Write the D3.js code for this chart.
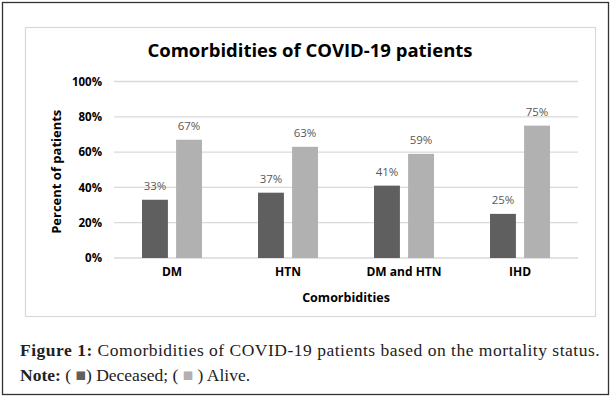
<!DOCTYPE html>
<html>
<head>
  <meta charset="utf-8">
  <title>Comorbidities of COVID-19 patients</title>
  <script src="https://cdn.jsdelivr.net/npm/d3@7"></script>
  <style>
    body { margin: 0; background: #fff; }
    .tick text { font-family: "Open Sans", sans-serif; font-weight: bold; fill: #000; }
  </style>
</head>
<body>
<div id="chart"></div>
<script>
  const categories = ["DM", "HTN", "DM and HTN", "IHD"];
  const series = ["Deceased", "Alive"];
  const deceased = [33, 37, 41, 25];
  const alive = [67, 63, 59, 75];
  const yTicks = [0, 20, 40, 60, 80, 100];
  const colors = { Deceased: "#5f5f5f", Alive: "#b1b1b1" };

  const W = 612, H = 398;
  const plot = { left: 114, right: 578, top: 81.5, bottom: 258 };

  const svg = d3.select("#chart").append("svg")
    .attr("width", W).attr("height", H);

  // frames
  svg.append("rect")
    .attr("x", 2.5).attr("y", 2.5).attr("width", 606).attr("height", 392)
    .attr("fill", "#fff").attr("stroke", "#333").attr("stroke-width", 1.3);
  svg.append("rect")
    .attr("x", 25.5).attr("y", 27.5).attr("width", 570).attr("height", 289)
    .attr("fill", "none").attr("stroke", "#d9d9d9").attr("stroke-width", 1.2);

  const x0 = d3.scaleBand().domain(categories).range([plot.left, plot.right]);
  const x1 = d3.scaleBand().domain(series).range([-30, 30]).paddingInner(0.24);
  const y = d3.scaleLinear().domain([0, 100]).range([plot.bottom, plot.top]);

  // grid
  svg.append("g").selectAll("line")
    .data(yTicks)
    .join("line")
    .attr("x1", plot.left).attr("x2", plot.right)
    .attr("y1", d => y(d)).attr("y2", d => y(d))
    .attr("stroke", "#d9d9d9").attr("stroke-width", 1.3);

  // y axis
  const yAxis = svg.append("g")
    .attr("transform", `translate(${plot.left - 12},0)`)
    .call(d3.axisLeft(y).tickValues(yTicks).tickFormat(d => d + "%").tickSize(0).tickPadding(0));
  yAxis.select(".domain").remove();
  yAxis.selectAll("text").attr("font-size", 11.5);

  // x axis
  const xAxis = svg.append("g")
    .attr("transform", `translate(0,${plot.bottom + 9})`)
    .call(d3.axisBottom(x0).tickSize(0).tickPadding(0));
  xAxis.select(".domain").remove();
  xAxis.selectAll("text").attr("dy", "0.71em").attr("font-size", 12);

  const rows = categories.map((c, i) => ({ cat: c, Deceased: deceased[i], Alive: alive[i] }));

  const groups = svg.append("g").selectAll("g")
    .data(rows)
    .join("g")
    .attr("transform", d => `translate(${x0(d.cat) + x0.bandwidth() / 2},0)`);

  groups.selectAll("rect")
    .data(d => series.map(s => ({ s, v: d[s] })))
    .join("rect")
    .attr("x", d => x1(d.s))
    .attr("width", x1.bandwidth())
    .attr("y", d => y(d.v))
    .attr("height", d => y(0) - y(d.v))
    .attr("fill", d => colors[d.s]);

  groups.selectAll("text")
    .data(d => series.map(s => ({ s, v: d[s] })))
    .join("text")
    .attr("x", d => x1(d.s) + x1.bandwidth() / 2)
    .attr("y", d => y(d.v) - 10)
    .attr("text-anchor", "middle")
    .attr("font-family", "Open Sans, sans-serif")
    .attr("font-size", 11.5)
    .attr("fill", "#595959")
    .text(d => d.v + "%");

  // titles
  svg.append("text")
    .attr("x", 310).attr("y", 57)
    .attr("text-anchor", "middle")
    .attr("font-family", "Open Sans, sans-serif")
    .attr("font-weight", "bold").attr("font-size", 18.5)
    .text("Comorbidities of COVID-19 patients");

  svg.append("text")
    .attr("transform", `translate(61,${(plot.top + plot.bottom) / 2 + 2}) rotate(-90)`)
    .attr("text-anchor", "middle")
    .attr("font-family", "Open Sans, sans-serif")
    .attr("font-weight", "bold").attr("font-size", 13)
    .text("Percent of patients");

  svg.append("text")
    .attr("x", 346).attr("y", 302)
    .attr("text-anchor", "middle")
    .attr("font-family", "Open Sans, sans-serif")
    .attr("font-weight", "bold").attr("font-size", 12.5)
    .text("Comorbidities");

  // caption
  const cap = svg.append("text")
    .attr("x", 20).attr("y", 356)
    .attr("font-family", "Liberation Serif, serif")
    .attr("font-size", 17.5).attr("letter-spacing", 0.5).attr("fill", "#222");
  cap.append("tspan").attr("font-weight", "bold").text("Figure 1:");
  cap.append("tspan").text(" Comorbidities of COVID-19 patients based on the mortality status.");

  const note = svg.append("text")
    .attr("x", 20).attr("y", 381)
    .attr("font-family", "Liberation Serif, serif")
    .attr("font-size", 17.5).attr("fill", "#222");
  note.append("tspan").attr("font-weight", "bold").text("Note:");
  note.append("tspan").text(" ( ");
  note.append("tspan").attr("fill", colors.Deceased).text("\u25A0");
  note.append("tspan").text(") Deceased; ( ");
  note.append("tspan").attr("fill", colors.Alive).text("\u25A0");
  note.append("tspan").text(" ) Alive.");
</script>
</body>
</html>
